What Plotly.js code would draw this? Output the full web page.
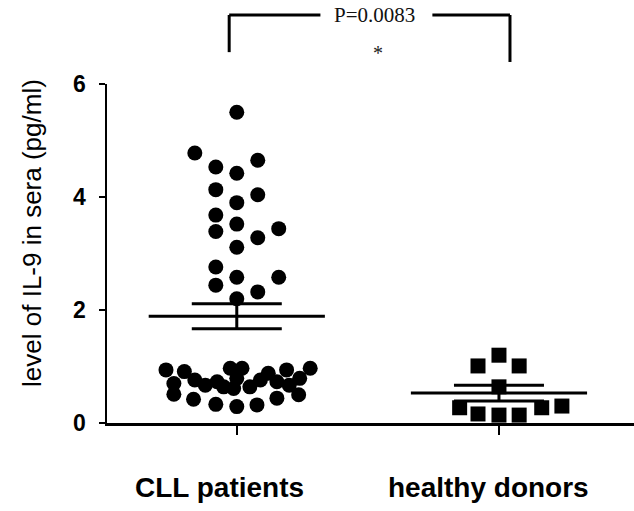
<!DOCTYPE html>
<html>
<head>
<meta charset="utf-8">
<script src="https://cdn.plot.ly/plotly-3.0.1.min.js"></script>
<style>
  html, body { margin: 0; padding: 0; background: #fff; }
  #il9-graph { width: 634px; height: 511px; }
</style>
</head>
<body>
<div id="il9-graph"></div>
<script>
// groups on the x axis (1 = CLL, 2 = healthy)
var categories = ['CLL patients', 'healthy donors'];
var group_pos = [1, 2];

// IL-9 values, with the horizontal spread of each dot
var cll_values = [5.50, 4.78, 4.65, 4.53, 4.42, 4.13, 4.04, 3.90, 3.68, 3.52,
                  3.44, 3.39, 3.28, 3.11, 2.76, 2.58, 2.58, 2.44, 2.32, 2.20,
                  0.94, 0.91, 0.97, 0.97, 0.88, 0.94, 0.97,
                  0.70, 0.76, 0.67, 0.73, 0.64, 0.79, 0.61, 0.64, 0.76, 0.73, 0.67, 0.79,
                  0.51, 0.42, 0.33, 0.29, 0.32, 0.44, 0.50];
var cll_spread = [0, -0.16, 0.08, -0.08, 0, -0.08, 0.08, 0, -0.08, 0,
                  0.16, -0.08, 0.08, 0, -0.08, 0, 0.16, -0.08, 0.08, 0,
                  -0.27, -0.2, -0.025, 0.02, 0.12, 0.19, 0.28,
                  -0.24, -0.16, -0.12, -0.075, -0.05, 0, -0.012, 0.05, 0.09, 0.153, 0.2, 0.24,
                  -0.24, -0.165, -0.08, 0, 0.077, 0.153, 0.236];

var hd_values = [1.01, 1.20, 1.01, 0.64, 0.27, 0.16, 0.14, 0.14, 0.27, 0.30];
var hd_spread = [-0.08, 0, 0.077, 0, -0.15, -0.08, 0, 0.077, 0.163, 0.24];

// mean and SEM bars as drawn
var means = [1.89, 0.53];
var sems = [0.22, 0.14];

// significance bracket
var p_text = 'P=0.0083';
var star_text = '*';

function dot_plot() {
    var black = '#000';

    var trace_cll = {
        x: cll_values.map(function (v, i) { return group_pos[0] + cll_spread[i]; }),
        y: cll_values,
        mode: 'markers',
        type: 'scatter',
        marker: { symbol: 'circle', size: 15, color: black },
        hoverinfo: 'y'
    };

    var trace_hd = {
        x: hd_values.map(function (v, i) { return group_pos[1] + hd_spread[i]; }),
        y: hd_values,
        mode: 'markers',
        type: 'scatter',
        marker: { symbol: 'square', size: 15, color: black },
        hoverinfo: 'y'
    };

    var data = [trace_cll, trace_hd];

    // mean lines
    var half = 0.336;
    for (var i = 0; i < means.length; i++) {
        data.push({
            x: [group_pos[i] - half, group_pos[i] + half],
            y: [means[i], means[i]],
            mode: 'lines',
            type: 'scatter',
            line: { color: black, width: 3 },
            hoverinfo: 'skip'
        });
    }

    // sem error bars
    data.push({
        x: group_pos,
        y: means,
        mode: 'markers',
        type: 'scatter',
        marker: { size: 1, opacity: 0 },
        error_y: { type: 'data', array: sems, visible: true, color: black, thickness: 3, width: 45 },
        hoverinfo: 'skip'
    });

    var annotations = [];
    // x labels, nudged left like the original
    var label_shift = [-17, -10];
    for (var j = 0; j < categories.length; j++) {
        annotations.push({
            x: group_pos[j], y: 0, xref: 'x', yref: 'paper',
            yanchor: 'middle', yshift: -64, xshift: label_shift[j],
            text: '<b>' + categories[j] + '</b>',
            showarrow: false,
            font: { family: 'Liberation Sans, Arial, sans-serif', size: 28, color: black }
        });
    }
    annotations.push({
        x: -0.175, y: 0.56, xref: 'paper', yref: 'paper',
        text: 'level of IL-9 in sera (pg/ml)',
        textangle: -90, showarrow: false,
        font: { family: 'Liberation Sans, Arial, sans-serif', size: 26, color: black }
    });
    annotations.push({
        x: 1.525, y: 1.2035, xref: 'x', yref: 'paper',
        text: p_text, showarrow: false, yanchor: 'middle',
        font: { family: 'Liberation Serif, Times New Roman, serif', size: 21, color: '#111' }
    });
    annotations.push({
        x: 1.54, y: 1.09, xref: 'x', yref: 'paper',
        text: star_text, showarrow: false, yanchor: 'middle',
        font: { family: 'Liberation Serif, Times New Roman, serif', size: 20, color: '#222' }
    });

    var br = { color: black, width: 3 };
    var shapes = [
        { type: 'line', xref: 'x', yref: 'paper', x0: 0.971, x1: 1.319, y0: 1.2035, y1: 1.2035, line: br },
        { type: 'line', xref: 'x', yref: 'paper', x0: 1.746, x1: 2.042, y0: 1.2035, y1: 1.2035, line: br },
        { type: 'line', xref: 'x', yref: 'paper', x0: 0.971, x1: 0.971, y0: 1.2035, y1: 1.094, line: br },
        { type: 'line', xref: 'x', yref: 'paper', x0: 2.042, x1: 2.042, y0: 1.2035, y1: 1.065, line: br }
    ];

    var layout = {
        width: 634,
        height: 511,
        showlegend: false,
        paper_bgcolor: '#fff',
        plot_bgcolor: '#fff',
        margin: { l: 107, r: 0, t: 84, b: 88, pad: 0 },
        xaxis: {
            range: [0.505, 2.515],
            tickvals: group_pos,
            showticklabels: false,
            ticks: 'outside', ticklen: 9, tickwidth: 2.5, tickcolor: black,
            showline: true, linecolor: black, linewidth: 2.5,
            showgrid: false, zeroline: false
        },
        yaxis: {
            range: [0, 6],
            tickvals: [0, 2, 4, 6],
            ticks: 'outside', ticklen: 6, tickwidth: 2.5, tickcolor: black,
            ticklabelstandoff: 8,
            tickfont: { family: 'Liberation Sans, Arial, sans-serif', size: 23, color: black, weight: 'bold' },
            showline: true, linecolor: black, linewidth: 2.5,
            showgrid: false, zeroline: false
        },
        annotations: annotations,
        shapes: shapes
    };

    Plotly.newPlot('il9-graph', data, layout, { displayModeBar: false, staticPlot: true });
}

dot_plot();
</script>
</body>
</html>
